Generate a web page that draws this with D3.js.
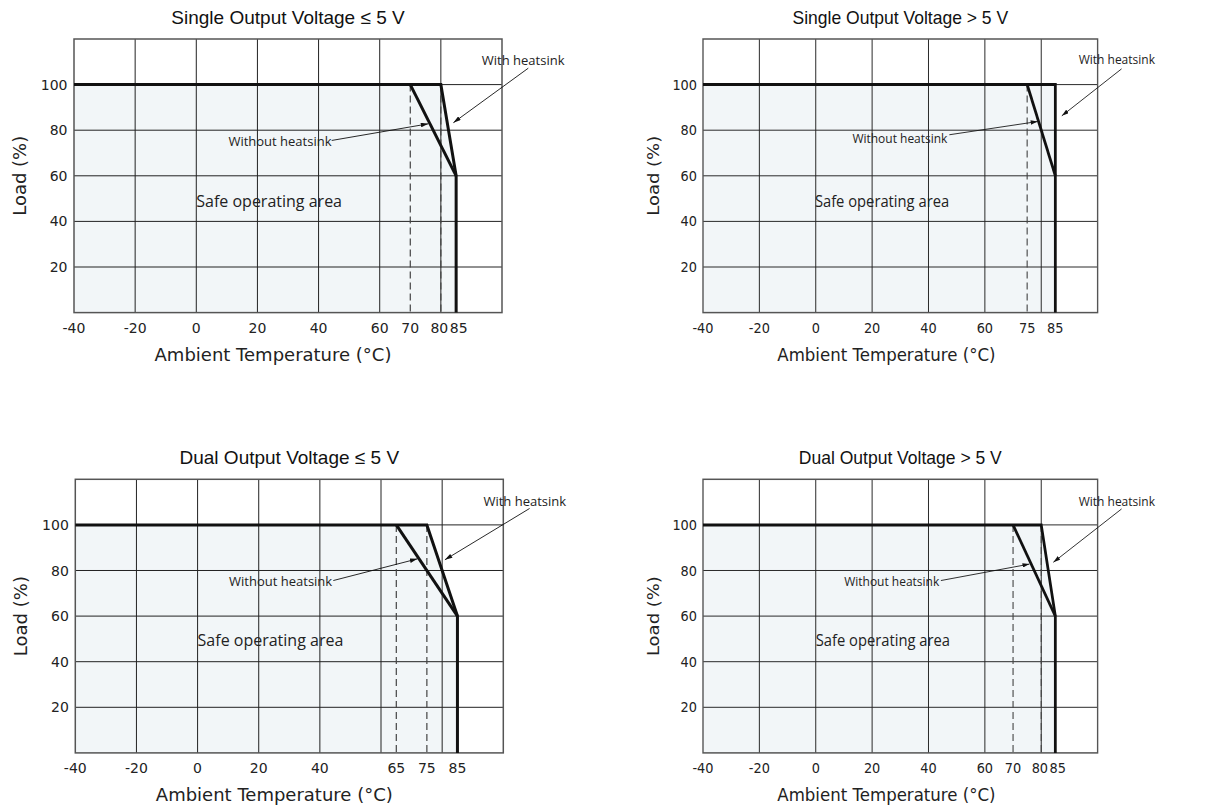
<!DOCTYPE html>
<html>
<head>
<meta charset="utf-8">
<script src="https://cdn.jsdelivr.net/npm/d3@7"></script>
<style>
  html, body { margin: 0; padding: 0; background: #fff; }
  svg { display: block; }
</style>
</head>
<body>
<svg id="chart" width="1207" height="811"></svg>
<script>
// DATA
const titles = [
  "Single Output Voltage \u2264 5 V",
  "Single Output Voltage > 5 V",
  "Dual Output Voltage \u2264 5 V",
  "Dual Output Voltage > 5 V",
];
const xDomain = [-40, 100];
const yDomain = [0, 120];
const xGrid = [-20, 0, 20, 40, 60, 80];
const yGrid = [20, 40, 60, 80, 100];
const yTicks = [20, 40, 60, 80, 100];
const xTicks = [
  [-40, -20, 0, 20, 40, 60, 70, 80, 85],
  [-40, -20, 0, 20, 40, 60, 75, 85],
  [-40, -20, 0, 20, 40, 65, 75, 85],
  [-40, -20, 0, 20, 40, 60, 70, 80, 85],
];
// derating with heatsink (outer boundary of safe area)
const withHeatsink = [
  [[-40, 100], [80, 100], [85, 60], [85, 0]],
  [[-40, 100], [85, 100], [85, 0]],
  [[-40, 100], [75, 100], [85, 60], [85, 0]],
  [[-40, 100], [80, 100], [85, 60], [85, 0]],
];
// derating without heatsink
const withoutHeatsink = [
  [[70, 100], [85, 60]],
  [[75, 100], [85, 60]],
  [[65, 100], [85, 60]],
  [[70, 100], [85, 60]],
];
const dashedAt = [[70, 80], [75], [65, 75], [70, 80]];
// label anchors in data units: [x, y]
const withoutLabel = [[10.5, 73.1], [13.0, 74.3], [10.3, 73.4], [10.1, 73.4]];
const withoutArrow = [
  [[44.3, 75.5], [75.9, 82.8]],
  [[47.4, 78.0], [78.7, 83.8]],
  [[44.4, 75.6], [71.9, 85.1]],
  [[44.4, 75.6], [75.8, 82.8]],
];
const withLabel = [[93.4, 108.6], [93.3, 108.9], [93.5, 108.4], [93.3, 108.4]];
const withArrow = [
  [[108.6, 107.2], [84.1, 83.3]],
  [[108.5, 106.9], [87.3, 86.3]],
  [[108.6, 107.2], [80.9, 84.7]],
  [[108.5, 107.0], [84.3, 83.6]],
];
const safeLabel = [[0, 46.3], [-0.3, 46.5], [0, 46.7], [0, 46.7]];

// LAYOUT
const panelPos = [
  { x: 74, y: 39, sx: 1 },
  { x: 703, y: 39, sx: 0.922 },
  { x: 75.3, y: 479.3, sx: 1 },
  { x: 703, y: 479.3, sx: 0.922 },
];
const W = 428,
  H = 273.6;

const svg = d3.select("#chart");

svg
  .append("defs")
  .append("marker")
  .attr("id", "arrow")
  .attr("viewBox", "0 0 10 6")
  .attr("refX", 10)
  .attr("refY", 3)
  .attr("markerWidth", 8)
  .attr("markerHeight", 4.5)
  .attr("markerUnits", "userSpaceOnUse")
  .attr("orient", "auto")
  .append("path")
  .attr("d", "M0,0L10,3L0,6Z")
  .attr("fill", "#111");

const x = d3.scaleLinear().domain(xDomain).range([0, W]);
const y = d3.scaleLinear().domain(yDomain).range([H, 0]);
const line = d3
  .line()
  .x((d) => x(d[0]))
  .y((d) => y(d[1]));

titles.forEach((title, i) => {
  const p = panelPos[i];
  const g = svg
    .append("g")
    .attr("transform", `translate(${p.x},${p.y}) scale(${p.sx},1)`);

  // safe area fill
  const area = [[-40, 0], ...withHeatsink[i], [85, 0]];
  g.append("path")
    .attr("d", line(area) + "Z")
    .attr("fill", "#f2f6f8");

  // grid
  g.selectAll(".vgrid")
    .data(xGrid)
    .join("line")
    .attr("x1", (d) => x(d))
    .attr("x2", (d) => x(d))
    .attr("y1", 0)
    .attr("y2", H)
    .attr("stroke", "#222")
    .attr("stroke-width", 1);

  g.selectAll(".hgrid")
    .data(yGrid)
    .join("line")
    .attr("x1", 0)
    .attr("x2", W)
    .attr("y1", (d) => y(d))
    .attr("y2", (d) => y(d))
    .attr("stroke", "#222")
    .attr("stroke-width", 1);

  g.append("rect")
    .attr("width", W)
    .attr("height", H)
    .attr("fill", "none")
    .attr("stroke", "#555")
    .attr("stroke-width", 1.5);

  // dashed markers
  g.selectAll(".dash")
    .data(dashedAt[i])
    .join("line")
    .attr("x1", (d) => x(d))
    .attr("x2", (d) => x(d))
    .attr("y1", y(100))
    .attr("y2", H)
    .attr("stroke", "#444")
    .attr("stroke-width", 1.2)
    .attr("stroke-dasharray", "7,4");

  // curves
  g.append("path")
    .attr("d", line(withHeatsink[i]))
    .attr("fill", "none")
    .attr("stroke", "#111")
    .attr("stroke-width", 3)
    .attr("stroke-linejoin", "miter");

  g.append("path")
    .attr("d", line(withoutHeatsink[i]))
    .attr("fill", "none")
    .attr("stroke", "#111")
    .attr("stroke-width", 3);

  // x tick labels (80 and 85 sit almost on top of each other)
  const crowded = xTicks[i].includes(80) && xTicks[i].includes(85);
  g.selectAll(".xt")
    .data(xTicks[i])
    .join("text")
    .attr("x", (d) => x(d))
    .attr("dx", (d) => (crowded && d == 80 ? -1.5 : crowded && d == 85 ? 2.5 : 0))
    .attr("y", H + 20.5)
    .attr("text-anchor", "middle")
    .style("font-family", "DejaVu Sans")
    .style("font-size", "14px")
    .attr("fill", "#222")
    .text((d) => d);

  // y tick labels
  g.selectAll(".yt")
    .data(yTicks)
    .join("text")
    .attr("x", -6.5)
    .attr("y", (d) => y(d))
    .attr("dy", "0.36em")
    .attr("text-anchor", "end")
    .style("font-family", "DejaVu Sans")
    .style("font-size", "14px")
    .attr("fill", "#222")
    .text((d) => d);

  // titles
  g.append("text")
    .attr("x", W / 2)
    .attr("y", -15.5)
    .attr("text-anchor", "middle")
    .style("font-family", "Liberation Sans, Arial")
    .style("font-size", "19px")
    .attr("fill", "#111")
    .text(title);

  g.append("text")
    .attr("x", W / 2 - 15)
    .attr("y", H + 48.5)
    .attr("text-anchor", "middle")
    .style("font-family", "DejaVu Sans")
    .style("font-size", "18px")
    .attr("fill", "#222")
    .text("Ambient Temperature (\u00b0C)");

  g.append("text")
    .attr("transform", `translate(-48,${H / 2}) rotate(-90)`)
    .attr("text-anchor", "middle")
    .style("font-family", "DejaVu Sans")
    .style("font-size", "18px")
    .attr("fill", "#222")
    .text("Load (%)");

  // annotations
  const annot = (pos, txt, size) =>
    g.append("text")
      .attr("x", x(pos[0]))
      .attr("y", y(pos[1]))
      .style("font-family", "Open Sans")
      .style("font-size", size)
      .attr("fill", "#222")
      .text(txt);

  annot(withoutLabel[i], "Without heatsink", "13px");
  annot(withLabel[i], "With heatsink", "13px");
  annot(safeLabel[i], "Safe operating area", "16px");

  [withoutArrow[i], withArrow[i]].forEach((a) => {
    g.append("path")
      .attr("d", line(a))
      .attr("fill", "none")
      .attr("stroke", "#111")
      .attr("stroke-width", 0.9)
      .attr("marker-end", "url(#arrow)");
  });
});
</script>
</body>
</html>
